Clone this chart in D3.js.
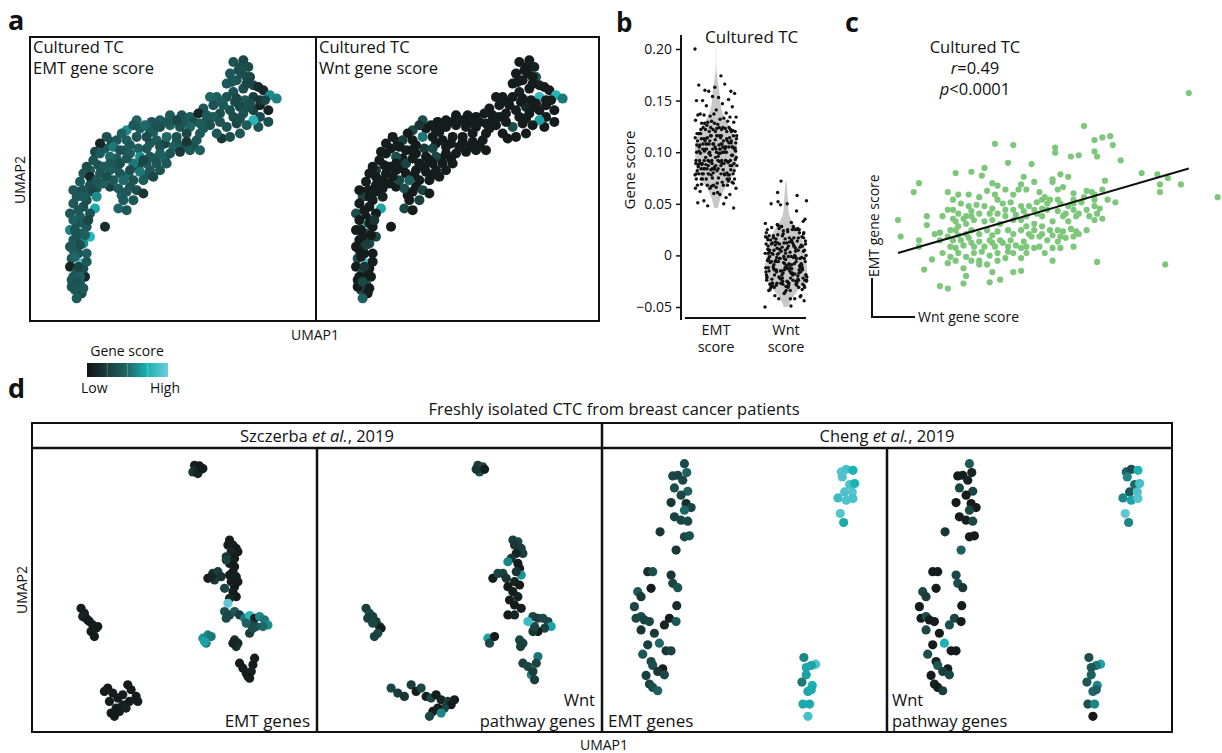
<!DOCTYPE html>
<html>
<head>
<meta charset="utf-8">
<script src="https://cdn.jsdelivr.net/npm/d3@7"></script>
<style>
  body { margin: 0; background: #fff; }
  svg { font-family: 'Open Sans', sans-serif; }
</style>
</head>
<body>
<svg id="fig" width="1222" height="753"></svg>
<script>
// colour scale for gene score (low -> high)
const scoreStops = [0, 0.25, 0.5, 0.75, 1]
const scoreColours = ['#141414', '#1a3d3d', '#1f6868', '#1bb2b4', '#70ccdc']

// panel a: cultured TC UMAP, [umap1, umap2, emtScore, wntScore] (scores 0-1)
const tcUmap = [
  [70,81.5,.38,.05],[73,82,.30,.05],[74.5,80,.33,.08],[71.5,79,.36,.05],[69,78,.40,.05],[75,77,.28,.35],
  [71,76,.38,.05],[68,75,.42,.05],[76,74.5,.30,.10],[73,73.5,.35,.05],[70,72.5,.38,.08],[77.5,74,.15,.05],
  [79,73,.12,.05],[76,71,.25,.82],[73.5,70,.40,.05],[70.5,69.5,.36,.05],[68,71,.38,.05],[65,71,.45,.05],
  [63,71,.48,.05],[72,68,.32,.12],[69,67,.36,.05],[66,66,.34,.05],[64,65,.42,.05],[62,64,.40,.10],
  [70,65,.33,.05],[73,66,.38,.05],[76,67,.28,.05],[78,68.5,.10,.05],[81,71.5,.62,.78],[83,70.5,.58,.55],
  [80.5,67,.10,.05],[78,65,.32,.05],[80.5,63.5,.35,.05],[77.5,62,.38,.05],[76,64,.78,.70],[74,62.5,.42,.05],
  [71,63,.30,.05],[68,62,.38,.35],[66.5,58.5,.20,.05],[69,59,.35,.05],[72,60,.40,.05],
  [71,70.5,.30,.05],[74.5,68,.36,.05],[67,68.5,.42,.05],[66,63.5,.38,.05],[72,64.5,.35,.05],[78,70,.20,.05],
  [74,77,.32,.05],[72,80,.36,.05],[72.5,78,.35,.05],[69.5,75.5,.40,.05],[74,75,.30,.05],[66.5,69.5,.42,.05],
  [61,67.5,.40,.05],[64,68.5,.38,.05],[79.5,70,.30,.05],[75,69,.35,.05],
  [51,65.5,.42,.05],[54.5,65.5,.38,.05],[57,65,.45,.05],[59.5,66,.10,.05],[62,65.5,.40,.05],[48,64,.44,.05],
  [45.5,63.5,.40,.05],[55,63.5,.40,.05],[58,63.5,.36,.05],[61,61.5,.42,.05],
  [41,64,.48,.35],[38,61,.62,.30],[42,61.5,.42,.05],[45,61,.40,.05],[48,62,.35,.05],[51,62.5,.45,.05],
  [54,62,.38,.05],[57,62,.48,.05],[60,63,.42,.05],[63,62.5,.36,.05],[65,60,.40,.05],[60,60,.42,.05],
  [56,60,.30,.05],[53,57.5,.38,.05],[46,60.5,.42,.05],
  [50,63.5,.40,.05],[53,64,.30,.05],[47,62.5,.38,.05],[43.5,62.5,.50,.05],[40,62.5,.40,.20],[36.5,60,.45,.05],
  [33.5,57.5,.30,.05],[45,57,.40,.05],[49.5,57,.28,.05],[55,56,.42,.05],[58,56.5,.34,.05],[41.5,55.5,.45,.22],
  [37.5,55,.40,.05],[31.5,55.5,.42,.05],[28.5,54.5,.30,.05],[46.5,52.5,.38,.05],[49.5,52.5,.48,.05],
  [35,52.5,.44,.05],[41.5,50,.32,.05],[29.5,50.5,.38,.05],[27,49,.42,.20],[44,47.5,.40,.05],[38.5,47.5,.52,.05],
  [35,49.5,.38,.05],[29,43.5,.40,.05],[33,44,.28,.05],[39,44,.38,.05],[36.5,41.5,.45,.05],[26.5,42.5,.42,.05],
  [24,42.5,.32,.05],
  [32,59,.38,.05],[30,57,.10,.05],[35,58,.40,.25],[38,58,.45,.05],[41,59,.40,.55],[44,59,.35,.05],
  [47,58,.42,.05],[50,59,.50,.05],[53,59,.38,.05],[56,57.5,.20,.05],[59,58,.40,.05],[52,56,.45,.05],
  [48,56,.36,.05],[44,55.5,.40,.30],[39,56.5,.40,.05],[34,56,.55,.05],
  [30,54,.42,.05],[33,53,.50,.35],[36,55,.38,.05],[39,54,.44,.05],[42,53,.62,.05],[45,53,.40,.30],
  [48,54,.44,.05],[51,54,.38,.05],[54,54.5,.22,.05],[57,55,.40,.05],[60,55,.45,.05],[33,51,.40,.05],
  [36,51,.35,.28],[40,51,.55,.05],[44,51,.42,.05],[47,51,.38,.05],[50,51,.40,.05],[28,52,.38,.05],
  [26,50,.35,.05],[43,52,.30,.05],[38,52.5,.40,.05],[31,50,.42,.05],
  [25,48,.40,.05],[27,47,.12,.05],[30,48,.38,.05],[33,49,.44,.05],[36,48,.40,.05],[39,49,.36,.05],
  [42,48.5,.55,.05],[45,49,.40,.05],[48,49,.38,.05],[31,45,.44,.05],[34,46,.40,.30],[37,46,.50,.45],
  [40,46,.38,.05],[43,46,.42,.05],[46,47,.30,.05],[24,45.5,.42,.05],[27,44.5,.36,.05],[29,46,.40,.05],
  [32,47,.36,.05],
  [25,43,.38,.05],[28,42.5,.30,.05],[23,41,.40,.30],[26,40,.36,.05],[29,41,.62,.10],[35.5,43.5,.42,.35],
  [38,42.5,.40,.05],[41,43,.35,.28],[43,42,.20,.05],[37,40,.42,.05],[40,40,.40,.25],[35.5,37.5,.48,.30],
  [38,37,.42,.05],[22,43,.40,.05],[25,41,.42,.05],
  [22,39,.40,.05],[25,38,.36,.05],[28.5,37.5,.72,.70],[21,36,.40,.35],[24,35,.44,.05],[23,33,.35,.80],
  [26,32,.40,.05],[21,31,.58,.05],[24,30,.45,.35],[27,29,.78,.30],[22,28,.42,.05],[25,27,.62,.30],
  [21,26,.40,.05],[23.5,24,.38,.05],[26,24,.44,.05],[21.5,22.5,.40,.35],[24.5,21,.90,.88],[21,20,.10,.05],
  [23,18.5,.42,.35],[25.5,17,.12,.05],[21.5,16,.40,.05],[24,15,.44,.40],[22.5,13,.40,.30],[24.5,12,.36,.05],
  [23,10.5,.42,.45],[21.5,14,.38,.05],[27,36,.38,.05],[22,34,.45,.05],[25,33,.40,.05],[23,29,.38,.05],
  [22,25,.42,.05],[25,19.5,.36,.05],[22,17,.40,.05],
  [23.5,37,.40,.05],[26.5,34,.30,.20],[22.5,31,.38,.05],[25.5,29.5,.45,.05],[24,26.5,.35,.25],
  [22.5,23,.48,.05],[26,21.5,.40,.05],[23.5,20,.30,.20],[24,17,.45,.05],[23,15.5,.38,.30],[25,13.5,.42,.05],
  [31.5,32,.15,.05]
]

// panels b and c: per-cell [wnt score, EMT score] in thousandths
const tcScoresMilli = [
  [61,200],[21,174],[-13,160],[-6,159],[25,163],[28,165],[31,166],[32,159],[10,157],[10,153],[16,150],
  [19,151],[25,154],[26,150],[35,147],[-8,145],[1,144],[-17,141],[-28,137],[-22,138],[-18,135],[-2,134],
  [9,132],[12,136],[15,134],[43,137],[49,136],[53,133],[-42,129],[-14,129],[-12,127],[-3,128],[2,130],
  [9,130],[29,131],[-44,122],[-31,122],[-27,120],[-23,120],[-19,118],[-16,123],[-13,120],[-6,120],
  [-9,124],[-4,124],[-1,124],[4,122],[6,118],[11,124],[13,126],[17,121],[22,123],[24,122],[25,120],
  [28,124],[30,116],[33,114],[50,128],[50,122],[58,128],[72,118],
  [-50,100],[-49,87],[-39,103],[-39,96],[-36,89],[-34,90],[-42,84],[-42,79],[-31,108],[-29,108],
  [-27,105],[-24,103],[-22,107],[-19,105],[-17,111],[-14,109],[-12,116],[-10,113],[-7,114],[-6,108],
  [-3,111],[0,111],[3,114],[5,116],[8,116],[12,113],[15,111],[17,116],[20,114],[22,108],[23,103],
  [27,109],[26,105],[28,101],[18,103],[15,99],[13,103],[9,99],[5,103],[3,105],[-1,103],[-3,100],
  [-6,100],[-9,103],[-11,97],[-14,100],[-17,99],[-21,100],[-24,97],[-27,95],[-28,99],[-30,92],
  [-31,87],[-29,84],[-27,88],[-24,89],[-22,92],[-19,89],[-16,92],[-14,88],[-12,91],[-8,92],[-6,89],
  [-3,92],[-1,95],[2,97],[5,95],[8,92],[11,92],[13,91],[16,93],[18,91],[-30,79],[-28,78],[-25,80],
  [-22,82],[-19,83],[-15,84],[-13,79],[-10,82],[-7,84],[-5,80],[-2,83],[1,87],[4,87],[7,84],[11,83],
  [14,86],[4,79],[2,78],[-1,79],[-6,74],[-8,75],[-12,74],[-15,72],[-18,75],[-21,74],[-24,71],[-27,74],
  [-30,71],[-31,66],[-25,62],[-24,56],[-19,65],[-16,65],[-14,59],[-11,53],[-6,59],[-3,60],[-15,51],
  [-25,50],[-34,48],[-31,46],[-40,61],[-37,69],[9,68],[26,67],[52,65],
  [-29,116],[-26,113],[-23,111],[-20,112],[-15,105],[-12,105],[-9,108],[-5,104],[-2,107],[2,108],
  [5,109],[7,108],[11,107],[14,105],[17,108],[19,105],[25,116],[21,118],[17,113],[11,116],[7,113],
  [-22,103],[-25,101],[-28,92],[-26,84],[-23,86],[-21,79],[-17,79],[-14,82],[-11,84],[-8,79],[-3,78],
  [0,89],[2,92],[5,89],[9,88],[12,87],[17,87],[19,89],[22,92],[25,100],[-29,101],[-33,103],[-34,84],
  [-33,74],[-28,68],[-22,68],[-19,68],[-12,68],[-9,70],[-3,70],[-1,74],[6,74],[9,78],[12,78],[17,79],
  [25,111]
]
const tcScores = tcScoresMilli.map(([w, e]) => ({ wnt: w / 1000, emt: e / 1000 }))

const violinGroups = ['EMT', 'Wnt']
const groupLabels = [['EMT', 'score'], ['Wnt', 'score']]
const geneScoreTicks = [-0.05, 0, 0.05, 0.1, 0.15, 0.2]

// regression line
const fitSlope = 0.60
const fitIntercept = 0.104
const fitWntRange = [-0.05, 0.061]

// panel d: Szczerba et al. UMAPs [umap1, umap2, score]
const szczerbaEmt = [
  [49.5,94,.08],[51,93.8,.05],[50,92.5,.12],[51.5,92.8,.05],[49,92,.2],[50.5,91.5,.1],[52,93,.05],
  [60,71.5,.05],[59.5,70,.05],[61,70,.08],[62,69,.05],[62.5,68,.05],[60.5,68,.1],[59,66.5,.2],
  [61.5,66,.05],[60,64.5,.05],[61.5,63.5,.05],[61,62,.05],[62,60.5,.08],[60.5,59,.05],[61.5,57.5,.05],
  [61,56,.05],[62,54.5,.05],[60,54,.12],[58.5,57,.3],[59,65.5,.28],[62.5,59,.05],[60,61,.06],
  [53.5,60,.05],[55,61.5,.2],[56.5,62,.25],[57.5,60.5,.18],[55.5,59.5,.22],[54.5,60.5,.1],
  [58.5,50,.35],[60,49,.3],[61.5,50,.4],[63,49,.25],[59,48,.32],[59.5,52.5,.95],
  [64.5,48,.55],[66,48.8,.8],[67.5,48,.1],[69,48.5,.6],[70.5,47.5,.55],[71.5,46,.62],[70,45.5,.5],
  [68,45.5,.4],[66.5,46,.3],[65,46.5,.45],[66,43.5,.25],[67,45,.35],
  [52,42,.65],[53.5,43,.6],[54.5,42.5,.55],[53,40.5,.6],[52.5,41,.7],
  [61.5,41.5,.15],[62.5,40.5,.12],[62,39.5,.18],[61,40.5,.1],
  [63,34.5,.05],[64,33,.05],[65,31.5,.05],[66,30,.05],[67.5,36,.05],[67,34,.05],[66.5,32,.08],[65.5,30.5,.05],
  [15.5,51,.05],[16.5,49.5,.05],[17,48,.08],[18,47,.05],[19,46,.05],[20,45,.05],[20.5,45.5,.05],
  [18.5,44,.05],[19.5,42.5,.05],[16,48.5,.1],[17.5,47.5,.05],[19,44.5,.05],
  [23.5,27,.05],[25,25.5,.05],[26.5,24,.05],[28,25,.05],[29.5,28,.05],[30.5,26.5,.05],[32,24.5,.05],
  [32.5,23,.05],[30,23,.05],[28,22,.08],[26,21,.05],[24.5,19.5,.05],[25.5,18.5,.05],[27,20,.05],
  [29,21,.1],[24,23,.05],[22.5,26,.05]
]
const szczerbaWnt = [
  [49,94,.25],[50.5,93.5,.3],[49.5,92,.35],[51,92.8,.05],[48.5,92.8,.2],
  [59.5,71.5,.25],[61,71,.3],[60,70,.2],[62,69,.25],[62.5,67.5,.28],[60.5,67.5,.1],[59,66,.2],
  [58,65,.6],[61,64.5,.05],[61.5,63,.05],[62,61,.65],[60.5,62,.2],[60,59,.1],[61.5,58,.05],
  [59.5,56,.05],[61,54.5,.08],[58.5,53.5,.05],[60,52,.05],[62,51,.05],[58,49,.05],[60,49,.1],
  [53.5,60,.05],[55,61.5,.3],[56.5,61.5,.28],[57.5,60,.2],[58,57.5,.05],
  [65.5,48.5,.3],[67,48,.25],[68.5,48,.32],[70,47,.3],[71,45.5,.7],[69,45,.28],[67,44,.05],
  [65.5,44,.2],[66,45.5,.3],[64,47,.85],
  [52,42,.7],[54,42.5,.05],[52.5,40.5,.3],
  [61.5,41.5,.3],[62.5,40.5,.28],[61.8,39.5,.25],
  [62.5,34.5,.25],[64,33.5,.3],[65,31,.6],[66,29.5,.25],[67,36.5,.55],[66.5,34.5,.3],[65.5,32,.25],
  [15.5,51,.25],[16.5,49.5,.3],[17.5,48.5,.28],[18.5,47,.25],[19.5,45.5,.2],[20,45,.05],[19,43.5,.3],
  [18,42.5,.28],[16,48,.25],[17.5,46.5,.3],
  [23,27,.3],[25,25.5,.25],[27,24.5,.2],[29,28,.25],[30.5,26,.05],[32,27,.3],[33.5,24.5,.05],
  [35,24,.3],[36.5,25,.05],[38,23.5,.1],[40,23,.25],[42,23.5,.05],[41,22,.05],[39,21,.3],[37,21,.05],
  [35.5,20,.05],[34.5,18.5,.3],[38,19.5,.6]
]
// panel d: Cheng et al. UMAP [umap1, umap2, emtScore, wntScore]
const chengUmap = [
  [25.5,94.5,.32,.42],[26.2,91.8,.45,.1],[22,90.8,.3,.05],[23.5,91,.28,.05],[25,89.5,.3,.1],
  [22.5,87.2,.35,.3],[26.5,86.2,.45,.3],[24.5,85,.3,.05],[21.5,82.8,.2,.05],[26,82.5,.15,.05],
  [27.5,81.3,.3,.05],[25.5,80.5,.5,.3],[22.5,78.5,.28,.05],[24.5,77.5,.3,.05],[26.5,77.2,.32,.3],
  [25.5,72.5,.3,.05],[27,72.8,.35,.05],[18.2,74,.2,.2],[23,68.5,.22,.45],
  [14.5,62,.15,.05],[16,62,.35,.05],[21.5,61,.2,.3],[15.5,57,.05,.05],[11.5,56,.4,.3],[10.5,51.5,.3,.05],
  [12.5,54.5,.22,.25],[22,58.5,.3,.35],[23.5,57.2,.38,.2],[23.2,51.8,.15,.05],[11,48,.3,.05],
  [12.5,48.5,.35,.35],[13.5,47.5,.28,.05],[15,47,.3,.05],[21,48,.05,.3],[19.5,46,.1,.35],[23,47,.4,.05],
  [12.5,44.5,.2,.3],[16.5,43.5,.22,.05],[14.5,40,.25,.05],[18,40.5,.5,.75],[20,38.2,.2,.05],
  [21.5,38.2,.28,.05],[13,37.2,.4,.35],[15.5,35,.3,.1],[16,33.8,.35,.4],[19,32.8,.05,.05],
  [17.5,32,.2,.25],[19.5,31,.3,.3],[14,30.8,.25,.05],[15,28.2,.3,.1],[16,27.2,.35,.05],[17.5,26.2,.45,.25],
  [72.5,92,.92,.45],[74,92.8,.88,.35],[76,92.5,.75,.75],[72.8,90.5,.9,.6],[75,88.2,.9,.5],
  [76.5,88.5,.75,.88],[73.5,86,.9,.4],[75.8,86,.92,.9],[71.5,84.2,.85,.6],[74,83.5,.9,.7],
  [76,84,.88,.92],[72.2,79.5,.92,.95],[73.2,76.8,.72,.6],
  [61.3,36.2,.6,.35],[64.8,34.2,.9,.7],[63.5,33.8,.7,.55],[62,33.2,.72,.4],[62,31,.7,.45],
  [60.7,28.8,.55,.4],[63.8,27.8,.75,.6],[62.5,26,.7,.5],[63.5,26.5,.72,.45],[61,22.2,.72,.35],
  [63,22.2,.72,.6],[62.5,18.5,.88,.03]
]

const svg = d3.select('#fig')
const scoreColour = d3.scaleLinear().domain(scoreStops).range(scoreColours)
  .interpolate(d3.interpolateRgb).clamp(true)

// txt: string, array of [text, italic] runs, or {lines: [...]} for stacked lines
function label(txt, x, y, size, opts = {}) {
  const t = svg.append('text').attr('x', x).attr('y', y)
    .style('font-size', size + 'px').attr('fill', '#111')
    .attr('text-anchor', opts.anchor || 'start')
  if (opts.weight) t.style('font-weight', opts.weight)
  if (opts.rotate) t.attr('transform', `rotate(-90,${x},${y})`)
  if (txt.lines) {
    txt.lines.forEach((s, i) => t.append('tspan').attr('x', x).attr('dy', i ? opts.lead || size * 1.15 : 0).text(s))
  } else if (Array.isArray(txt)) {
    txt.forEach(p => t.append('tspan').text(p[0]).style('font-style', p[1] ? 'italic' : null))
  } else t.text(txt)
  return t
}

function umap(cells, pick, frame, domX, domY, r) {
  const x = d3.scaleLinear().domain(domX).range([frame[0], frame[1]])
  const y = d3.scaleLinear().domain(domY).range([frame[3], frame[2]])
  svg.append('g').selectAll('circle').data(cells).enter().append('circle')
    .attr('cx', d => x(d[0])).attr('cy', d => y(d[1])).attr('r', r)
    .attr('fill', d => scoreColour(pick(d)))
}

// ---------------- panel a ----------------
const aDomX = [9, 94.8], aDomY = [3.7, 89]
umap(tcUmap, d => d[2], [30, 316, 37, 321], aDomX, aDomY, 5)
umap(tcUmap, d => d[3], [316, 602, 37, 321], aDomX, aDomY, 5)
svg.append('rect').attr('x', 30).attr('y', 37).attr('width', 569).attr('height', 284)
  .attr('fill', 'none').attr('stroke', '#111').attr('stroke-width', 2)
svg.append('line').attr('x1', 316).attr('x2', 316).attr('y1', 37).attr('y2', 321)
  .attr('stroke', '#111').attr('stroke-width', 2)
label({ lines: ['Cultured TC', 'EMT gene score'] }, 33, 53, 16.5, { lead: 21 })
label({ lines: ['Cultured TC', 'Wnt gene score'] }, 319, 53, 16.5, { lead: 21 })
label('UMAP2', 25, 180, 14, { anchor: 'middle', rotate: true })
label('UMAP1', 315, 340, 14, { anchor: 'middle' })
label('a', 8, 30, 27, { weight: 700 })

// legend
const grad = svg.append('defs').append('linearGradient').attr('id', 'scoreGrad')
scoreStops.forEach((s, i) => grad.append('stop').attr('offset', s).attr('stop-color', scoreColours[i]))
const legX = d3.scaleLinear().domain([0, 1]).range([87, 168])
svg.append('rect').attr('x', legX(0)).attr('y', 363).attr('width', legX(1) - legX(0)).attr('height', 14)
  .attr('fill', 'url(#scoreGrad)')
scoreStops.slice(1, -1).forEach(s => svg.append('line').attr('x1', legX(s)).attr('x2', legX(s))
  .attr('y1', 363).attr('y2', 377).attr('stroke', '#fff').attr('stroke-opacity', 0.25))
label('Gene score', 127, 356, 14, { anchor: 'middle' })
label('Low', 81, 393, 14)
label('High', 180, 393, 14, { anchor: 'end' })

// ---------------- panel b ----------------
const yB = d3.scaleLinear().domain([-0.05, 0.2]).range([307, 49])
const xB = d3.scalePoint().domain(violinGroups).range([716, 786])
const bAxis = svg.append('g').attr('transform', 'translate(681,0)')
  .call(d3.axisLeft(yB).tickValues(geneScoreTicks).tickSize(5).tickPadding(4).tickSizeOuter(0)
    .tickFormat(v => v === 0 ? '0' : d3.format('.2f')(v)))
bAxis.select('.domain').remove()
bAxis.selectAll('.tick line').attr('stroke', '#111').attr('stroke-width', 1.5)
bAxis.selectAll('.tick text').style('font-size', '14px').style('font-family', 'Open Sans').attr('fill', '#111')
svg.append('line').attr('x1', 681).attr('x2', 681).attr('y1', 35).attr('y2', 320)
  .attr('stroke', '#111').attr('stroke-width', 2)
svg.append('line').attr('x1', 685).attr('x2', 806).attr('y1', 318).attr('y2', 318)
  .attr('stroke', '#111').attr('stroke-width', 2)

violinGroups.forEach((grp, gi) => {
  const vals = tcScores.map(d => grp === 'EMT' ? d.emt : d.wnt)
  const [lo, hi] = d3.extent(vals)
  const bw = 0.0085
  const dens = d3.range(0, 101).map(i => {
    const t = lo + (hi - lo) * i / 100
    return [t, d3.mean(vals, v => Math.exp(-0.5 * ((t - v) / bw) ** 2))]
  })
  const w = d3.scaleLinear().domain([0, d3.max(dens, d => d[1])]).range([0, 21])
  const cx = xB(grp)
  svg.append('path').datum(dens)
    .attr('d', d3.area().curve(d3.curveBasis).y(d => yB(d[0]))
      .x0(d => cx - w(d[1])).x1(d => cx + w(d[1])))
    .attr('fill', '#c9c9c9')
  svg.append('g').selectAll('circle').data(vals).enter().append('circle')
    .attr('cx', (d, i) => cx + (((i * 0.6180339887 + gi * 0.3) % 1) - 0.5) * 42)
    .attr('cy', d => yB(d)).attr('r', 1.7).attr('fill', '#111')
  label({ lines: groupLabels[gi] }, cx, 335, 14.5, { anchor: 'middle', lead: 17 })
})
label('Cultured TC', 705, 43, 17)
label('Gene score', 635, 170, 15, { anchor: 'middle', rotate: true })
label('b', 616, 32, 26, { weight: 700 })

// ---------------- panel c ----------------
const xC = d3.scaleLinear().domain([-0.05, 0.072]).range([898, 1217.6])
const yC = d3.scaleLinear().domain([0.043, 0.2]).range([292.4, 93])
svg.append('g').selectAll('circle').data(tcScores).enter().append('circle')
  .attr('cx', d => xC(d.wnt)).attr('cy', d => yC(d.emt)).attr('r', 3.1).attr('fill', '#7dc77b')
svg.append('line')
  .attr('x1', xC(fitWntRange[0])).attr('y1', yC(fitIntercept + fitSlope * fitWntRange[0]))
  .attr('x2', xC(fitWntRange[1])).attr('y2', yC(fitIntercept + fitSlope * fitWntRange[1]))
  .attr('stroke', '#111').attr('stroke-width', 2)
svg.append('path').attr('d', 'M872,278V317H915').attr('fill', 'none')
  .attr('stroke', '#111').attr('stroke-width', 2)
label('EMT gene score', 879, 277, 14, { rotate: true })
label('Wnt gene score', 918, 322, 14)
label('Cultured TC', 975, 53, 16.5, { anchor: 'middle' })
label([['r', true], ['=0.49']], 975, 74, 16.5, { anchor: 'middle' })
label([['p', true], ['<0.0001']], 975, 95, 16.5, { anchor: 'middle' })
label('c', 845, 32, 27, { weight: 700 })

// ---------------- panel d ----------------
const dCols = [32, 317, 602, 887, 1172]
const dTop = 448, dBottom = 732, dHead = 423
const dDomX = [0.8, 86.2], dDomY = [13.8, 99.2]
umap(szczerbaEmt, d => d[2], [dCols[0], dCols[1], dTop, dBottom], dDomX, dDomY, 4.6)
umap(szczerbaWnt, d => d[2], [dCols[1], dCols[2], dTop, dBottom], dDomX, dDomY, 4.6)
umap(chengUmap, d => d[2], [dCols[2], dCols[3], dTop, dBottom], dDomX, dDomY, 4.6)
umap(chengUmap, d => d[3], [dCols[3], dCols[4], dTop, dBottom], dDomX, dDomY, 4.6)
svg.append('rect').attr('x', dCols[0]).attr('y', dHead).attr('width', dCols[4] - dCols[0])
  .attr('height', dBottom - dHead).attr('fill', 'none').attr('stroke', '#111').attr('stroke-width', 2)
svg.append('line').attr('x1', dCols[0]).attr('x2', dCols[4]).attr('y1', dTop).attr('y2', dTop)
  .attr('stroke', '#111').attr('stroke-width', 2.5)
dCols.slice(1, -1).forEach((c, i) => svg.append('line').attr('x1', c).attr('x2', c)
  .attr('y1', i === 1 ? dHead : dTop).attr('y2', dBottom).attr('stroke', '#111').attr('stroke-width', 2.5))
label('Freshly isolated CTC from breast cancer patients', 614, 415, 16.5, { anchor: 'middle' })
label([['Szczerba '], ['et al.', true], [', 2019']], (dCols[0] + dCols[2]) / 2, 442, 16.5, { anchor: 'middle' })
label([['Cheng '], ['et al.', true], [', 2019']], (dCols[2] + dCols[4]) / 2, 442, 16.5, { anchor: 'middle' })
label('EMT genes', dCols[1] - 7, 727, 17, { anchor: 'end' })
label({ lines: ['Wnt', 'pathway genes'] }, dCols[2] - 7, 706, 16.5, { anchor: 'end', lead: 21 })
label('EMT genes', dCols[2] + 6, 727, 17)
label({ lines: ['Wnt', 'pathway genes'] }, dCols[3] + 5, 706, 16.5, { lead: 21 })
label('UMAP2', 27, 590, 14, { anchor: 'middle', rotate: true })
label('UMAP1', 604, 750, 14, { anchor: 'middle' })
label('d', 8, 398, 27, { weight: 700 })
</script>
</body>
</html>
